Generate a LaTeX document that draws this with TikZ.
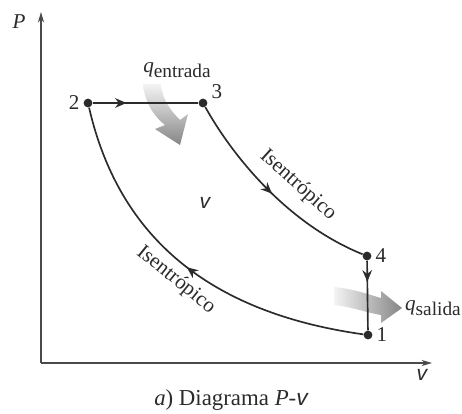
\documentclass[tikz,border=0pt]{standalone}
\usepackage{fontspec}
\setmainfont{Liberation Serif}
\newfontfamily\volfont{Liberation Sans}
\usetikzlibrary{arrows.meta, decorations.markings}
\definecolor{cline}{HTML}{2B2B2B}
\definecolor{caxis}{HTML}{4A4A4A}
\definecolor{cheat}{HTML}{858585}
\definecolor{cfade}{HTML}{F4F4F4}
\newcommand{\spv}{{\volfont\itshape v}}
\newcommand{\heatq}[1]{\textit{q}\raisebox{-0.5ex}{\fontsize{11}{12}\selectfont #1}}

\begin{document}
\begin{tikzpicture}[x=0.02cm, y=-0.02cm,
  font=\fontsize{12}{14}\selectfont,
  pt/.style={circle, fill=cline, inner sep=0pt, minimum size=5pt},
  num/.style={text=cline, inner sep=2pt},
  lbl/.style={text=cline, inner sep=1pt},
  axis/.style={draw=caxis, line width=0.7pt, -{Stealth[length=6pt,width=3.5pt]}},
  proc/.style={draw=cline, line width=0.95pt},
  mid/.style={postaction={decorate},
              decoration={markings, mark=at position #1 with {\arrow{Stealth[length=6.5pt,width=5.5pt]}}}},
  heat/.style={draw=none}
]
\useasboundingbox (0,0) rectangle (462,413);
\coordinate (o)    at (41,363);
\coordinate (ptop) at (41,12);
\coordinate (vend) at (432,363);
\draw[axis] (o) -- (ptop);
\draw[axis] (o) -- (vend);
\node[lbl] (plab) at (19,22)   {\textit{P}};
\node[lbl] (vlab) at (422,375) {\spv};

\shade[heat, top color=cfade, bottom color=cheat]
  (143,84) .. controls (145,105) and (156,118) .. (165,125) -- (155,129) -- (180,145)
  -- (188,114) -- (180,120) .. controls (172,112) and (162,100) .. (161,84) -- cycle;
\shade[heat, left color=cfade, right color=cheat]
  (334,287) .. controls (355,289) and (370,295) .. (381,298) -- (381,291) -- (402,308)
  -- (381,323) -- (381,315) .. controls (368,313) and (352,307) .. (334,305) -- cycle;

\node[pt] (p1) at (368,335) {};
\node[pt] (p2) at (88,103)  {};
\node[pt] (p3) at (203,103) {};
\node[pt] (p4) at (367,256) {};
\node[num, right]       (l1) at (p1.east) {1};
\node[num, left]        (l2) at (p2.west) {2};
\node[num, above right] (l3) at (p3.east) {3};
\node[num, right]       (l4) at (p4.east) {4};

\draw[proc, mid=0.32] (p2) -- (p3);
\draw[proc, mid=0.5]  (p3) .. controls (235,160) and (290,225) .. (p4);
\draw[proc, mid=0.3]  (p4) -- (p1);
\draw[proc, mid=0.5]  (p1) .. controls (190,310) and (115,220) .. (p2);

\node[lbl] (qin)  at (177,70) {\heatq{entrada}};
\node[lbl, anchor=west] (qout) at (403,308) {\heatq{salida}};
\node[lbl, rotate=-42] (s34) at (298,185) {Isentrópico};
\node[lbl, rotate=-39] (s12) at (176,280) {Isentrópico};
\node[lbl] (vmid) at (205,203) {\spv};
\node[lbl, font=\fontsize{13}{15}\selectfont] (cap) at (231,400) {\textit{a}) Diagrama \textit{P}-\spv};
\end{tikzpicture}
\end{document}
